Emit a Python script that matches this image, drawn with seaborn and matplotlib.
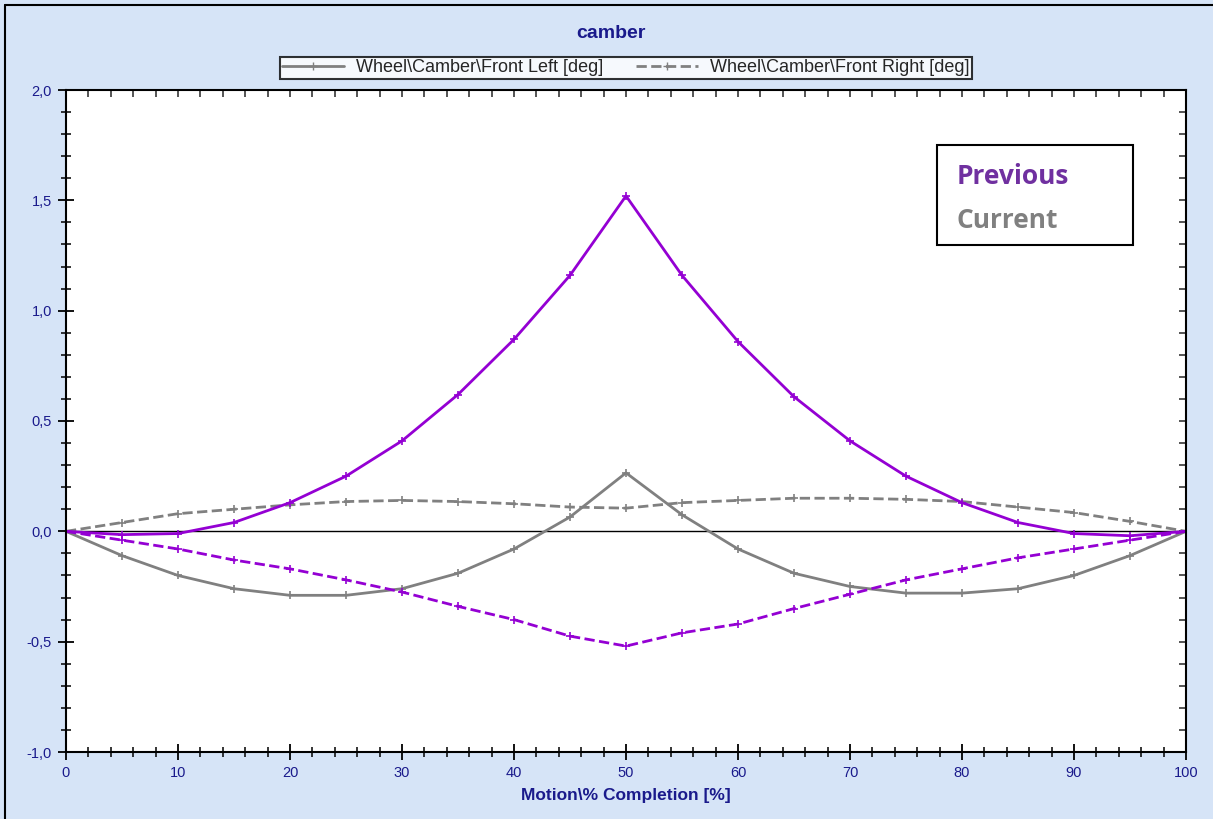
import numpy as np
import pandas as pd
import seaborn as sns
import matplotlib.pyplot as plt
from matplotlib.lines import Line2D
from matplotlib.ticker import MultipleLocator, FuncFormatter

motion = list(range(0, 101, 5))

prev_left = [0, -0.015, -0.01, 0.04, 0.13, 0.25, 0.41, 0.62, 0.87, 1.16, 1.52,
             1.16, 0.86, 0.61, 0.41, 0.25, 0.13, 0.04, -0.01, -0.02, 0]
prev_right = [0, -0.04, -0.08, -0.13, -0.17, -0.22, -0.275, -0.34, -0.40, -0.475, -0.52,
              -0.46, -0.42, -0.35, -0.285, -0.22, -0.17, -0.12, -0.08, -0.04, 0]
curr_left = [0, -0.11, -0.2, -0.26, -0.29, -0.29, -0.26, -0.19, -0.08, 0.065, 0.265,
             0.075, -0.08, -0.19, -0.25, -0.28, -0.28, -0.26, -0.2, -0.11, 0]
curr_right = [0, 0.04, 0.08, 0.10, 0.12, 0.135, 0.14, 0.135, 0.125, 0.11, 0.105,
              0.13, 0.14, 0.15, 0.15, 0.145, 0.135, 0.11, 0.085, 0.045, 0]

legend_labels = ['Wheel\\Camber\\Front Left [deg]', 'Wheel\\Camber\\Front Right [deg]']

purple = '#9400d3'
gray = '#808080'
navy = '#1a1a8c'
bg = '#d6e4f7'

sns.set_style('white')
plt.rcParams['font.family'] = ['Liberation Sans', 'DejaVu Sans']

fig = plt.figure(figsize=(12.13, 8.19), dpi=100, facecolor=bg)
ax = fig.add_axes([66 / 1213, 1 - 752 / 819, 1120 / 1213, 662 / 819])
ax.set_facecolor('white')

series = [
    (curr_right, gray, '--'),
    (curr_left, gray, '-'),
    (prev_right, purple, '--'),
    (prev_left, purple, '-'),
]
for vals, col, ls in series:
    df = pd.DataFrame({'x': motion, 'y': vals})
    sns.lineplot(data=df, x='x', y='y', ax=ax, color=col, linestyle=ls, linewidth=2,
                 marker='+', markersize=6, markeredgewidth=1.2, markeredgecolor=col)

ax.axhline(0, color='black', linewidth=1, zorder=1)

ax.set_xlim(0, 100)
ax.set_ylim(-1.0, 2.0)
ax.xaxis.set_major_locator(MultipleLocator(10))
ax.xaxis.set_minor_locator(MultipleLocator(2))
ax.yaxis.set_major_locator(MultipleLocator(0.5))
ax.yaxis.set_minor_locator(MultipleLocator(0.1))
ax.yaxis.set_major_formatter(FuncFormatter(lambda v, p: f'{v:.1f}'.replace('.', ',')))

for s in ax.spines.values():
    s.set_color('black')
    s.set_linewidth(1.5)

ax.tick_params(axis='both', which='both', bottom=True, left=True, top=False, right=False)
ax.tick_params(axis='both', which='major', direction='inout', length=12, width=1.3,
               colors='black', labelcolor=navy, labelsize=10.5, pad=4)
ax.tick_params(axis='both', which='minor', direction='inout', length=7, width=1.1, colors='black')

# top and right: short inward ticks
secx = ax.secondary_xaxis('top')
secx.xaxis.set_major_locator(MultipleLocator(2))
secx.tick_params(direction='in', length=5, width=1.1, labeltop=False)
secx.spines['top'].set_visible(False)
secy = ax.secondary_yaxis('right')
secy.yaxis.set_major_locator(MultipleLocator(0.1))
secy.tick_params(direction='in', length=5, width=1.1, labelright=False)
secy.spines['right'].set_visible(False)

ax.set_xlabel('Motion\\% Completion [%]', color=navy, fontsize=12.5, fontweight='bold', labelpad=6)
ax.set_ylabel('')
fig.text(611 / 1213, 1 - 33 / 819, 'camber', color=navy, fontsize=14, fontweight='bold',
         ha='center', va='center')

handles = [
    Line2D([], [], color=gray, linestyle='-', linewidth=2, marker='+', markersize=6),
    Line2D([], [], color=gray, linestyle='--', linewidth=2, marker='+', markersize=6),
]
leg = fig.legend(handles, legend_labels, loc='center', bbox_to_anchor=(626 / 1213, 1 - 68 / 819),
                 ncol=2, frameon=True, fancybox=False, fontsize=13, handlelength=3.4,
                 columnspacing=1.8, borderpad=0.15, handletextpad=0.7)
leg.get_frame().set_edgecolor('black')
leg.get_frame().set_linewidth(1.5)
leg.get_frame().set_facecolor('white')

ax.add_patch(plt.Rectangle((937 / 1213, 1 - 245 / 819), 196 / 1213, 100 / 819,
                           transform=fig.transFigure, fill=True, facecolor='white',
                           edgecolor='black', linewidth=1.5, zorder=5, clip_on=False))
fig.text(957 / 1213, 1 - 177 / 819, 'Previous', color='#7030a0', fontsize=19, fontweight='bold',
         family=['Open Sans', 'DejaVu Sans'], va='center', ha='left', zorder=6)
fig.text(957 / 1213, 1 - 221 / 819, 'Current', color=gray, fontsize=19, fontweight='bold',
         family=['Open Sans', 'DejaVu Sans'], va='center', ha='left', zorder=6)

# outer border (top and left)
fig.add_artist(Line2D([5 / 1213, 1], [1 - 5 / 819, 1 - 5 / 819], color='black', linewidth=1.5,
                      transform=fig.transFigure))
fig.add_artist(Line2D([5 / 1213, 5 / 1213], [0, 1 - 5 / 819], color='black', linewidth=1.5,
                      transform=fig.transFigure))

fig.savefig('out.png', dpi=100, facecolor=bg)
